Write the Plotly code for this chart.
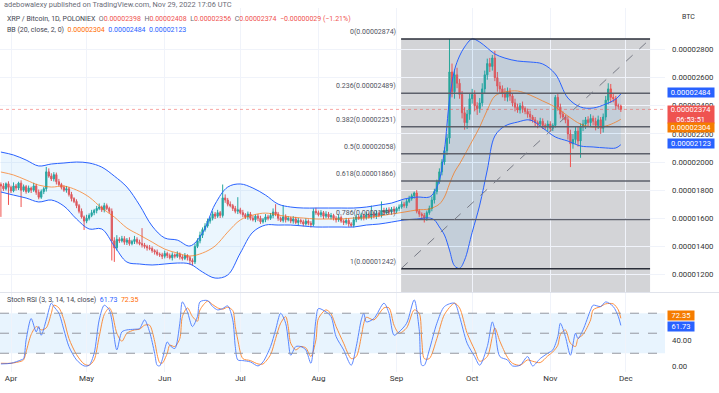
import numpy as np
import pandas as pd
import plotly.graph_objects as go

# ---------------- data (prices in units of 1e-8 BTC) ----------------
SCALE = 1e-8
START = "2022-03-28"
ORIGIN = pd.Timestamp("2022-04-01")
FIRST_OPEN = 1840

close = [
    1830, 1810, 1845, 1820, 1795, 1830, 1815, 1850, 1800, 1825, 1790, 1815, 1800, 1830, 1785,
    1750, 1790, 1810, 1930, 1900, 1880, 1910, 1860, 1840, 1820,
    1800, 1810, 1770, 1740, 1720, 1690, 1650, 1610, 1580, 1600,
    1620, 1640, 1655, 1670, 1680, 1660, 1690, 1670, 1650, 1440,
    1390, 1450, 1440, 1455, 1430, 1445, 1420, 1435, 1450, 1430,
    1420, 1410, 1400, 1390, 1385, 1370, 1360, 1345, 1340, 1330,
    1350, 1335, 1320, 1340, 1330, 1345, 1325, 1315, 1335, 1320,
    1300, 1290, 1400, 1440, 1480, 1520, 1545, 1580, 1600, 1630,
    1615, 1640, 1620, 1745, 1730, 1700, 1690, 1670, 1650, 1660,
    1640, 1625, 1610, 1630, 1600, 1590, 1615, 1600, 1575, 1590,
    1610, 1600, 1620, 1645, 1630, 1600, 1585, 1610, 1590, 1600,
    1580, 1595, 1570, 1585, 1575, 1560, 1580, 1565, 1555, 1650,
    1640, 1625, 1640, 1615, 1630, 1610, 1620, 1600, 1590, 1605,
    1580, 1570, 1585, 1560, 1550, 1590, 1610, 1600, 1620, 1605,
    1625, 1610, 1630, 1615, 1635, 1620, 1655, 1640, 1660, 1645,
    1665, 1650, 1670, 1680, 1700, 1690, 1720, 1740, 1760, 1780,
    1650, 1630, 1620, 1600, 1640, 1670, 1730, 1790, 1860, 1930,
    2000, 2080, 2170, 2640, 2500, 2620, 2560, 2480, 2350, 2280,
    2340, 2450, 2480, 2400, 2380, 2420, 2520, 2620, 2700, 2680,
    2740, 2600, 2540, 2520, 2490, 2460, 2500, 2470, 2420, 2390,
    2370, 2400, 2380, 2360, 2340, 2320, 2300, 2280, 2270, 2290,
    2260, 2250, 2270, 2240, 2260, 2460, 2390, 2340, 2320, 2300,
    2200, 2130, 2160, 2220, 2150, 2250, 2270, 2300, 2280, 2310,
    2290, 2260, 2300, 2240, 2320, 2440, 2520, 2460, 2450, 2400,
    2398, 2374,
]
wick_up = [
    15, 20, 10, 18, 12, 25, 14, 10, 20, 15, 12, 18, 10, 22, 15,
    20, 15, 12, 35, 25, 20, 18, 15, 20, 12,
    15, 20, 12, 18, 10, 15, 12, 20, 10, 25,
    15, 20, 12, 18, 25, 10, 20, 15, 12, 20,
    25, 30, 15, 20, 18, 15, 20, 12, 25, 15,
    18, 110, 15, 12, 20, 15, 10, 18, 12, 15,
    20, 12, 15, 18, 10, 20, 12, 15, 18, 10,
    12, 15, 20, 18, 25, 15, 20, 18, 12, 20,
    15, 20, 12, 95, 25, 15, 20, 12, 18, 90,
    15, 20, 12, 18, 15, 20, 12, 15, 18, 12,
    20, 15, 18, 25, 55, 15, 12, 84, 18, 15,
    12, 20, 15, 18, 12, 15, 20, 12, 15, 20,
    25, 15, 18, 12, 20, 15, 18, 12, 15, 20,
    15, 12, 18, 15, 12, 20, 18, 15, 20, 12,
    18, 15, 60, 15, 20, 12, 65, 20, 15, 18,
    15, 20, 12, 18, 20, 15, 18, 20, 15, 10,
    20, 15, 12, 18, 15, 20, 25, 20, 15, 25,
    20, 25, 30, 234, 60, 40, 50, 30, 25, 40,
    30, 35, 40, 30, 25, 35, 40, 30, 35, 40,
    21, 50, 40, 30, 25, 35, 30, 25, 20, 30,
    25, 20, 30, 15, 20, 25, 15, 20, 15, 25,
    20, 15, 25, 20, 15, 16, 30, 25, 20, 15,
    25, 30, 40, 35, 30, 25, 30, 20, 25, 30,
    20, 25, 30, 20, 25, 30, 40, 35, 25, 20,
    15, 10,
]
wick_dn = [
    220, 15, 12, 125, 15, 10, 18, 14, 120, 12, 15, 10, 20, 12, 18,
    15, 12, 18, 20, 12, 15, 18, 20, 12, 15,
    12, 18, 15, 20, 12, 18, 15, 12, 63, 15,
    15, 12, 18, 20, 12, 15, 18, 12, 15, 140,
    100, 20, 15, 12, 18, 20, 15, 12, 18, 15,
    12, 18, 15, 20, 12, 15, 18, 12, 15, 20,
    15, 18, 12, 20, 15, 12, 18, 15, 12, 20,
    30, 25, 15, 12, 18, 20, 15, 12, 18, 15,
    20, 12, 18, 15, 20, 15, 12, 18, 15, 20,
    12, 18, 15, 20, 15, 12, 18, 20, 15, 12,
    18, 15, 12, 20, 15, 18, 12, 15, 20, 12,
    15, 18, 12, 20, 15, 18, 12, 15, 20, 12,
    15, 12, 18, 20, 15, 12, 18, 15, 20, 15,
    12, 18, 15, 20, 12, 15, 18, 12, 15, 20,
    15, 12, 18, 15, 20, 12, 15, 18, 12, 15,
    12, 18, 15, 20, 12, 15, 18, 12, 15, 20,
    15, 20, 25, 30, 18, 15, 20, 25, 20, 15,
    25, 20, 30, 40, 40, 50, 35, 30, 40, 50,
    45, 40, 35, 40, 45, 30, 25, 30, 35, 40,
    30, 25, 40, 35, 30, 25, 30, 35, 25, 30,
    20, 25, 30, 20, 25, 30, 20, 25, 30, 20,
    25, 20, 30, 25, 20, 15, 25, 30, 20, 25,
    40, 166, 35, 30, 40, 120, 30, 35, 25, 30,
    30, 35, 25, 40, 30, 25, 30, 40, 25, 30,
    20, 18,
]

# Bollinger Bands (20, 2); day offsets from 2022-04-01
bb_day = [-4, 1, 6, 11, 16, 21, 26, 31, 36, 41,
          46, 51, 56, 61, 66, 71, 76, 81, 86, 91,
          96, 101, 106, 111, 116, 121, 126, 131, 136, 141,
          146, 151, 156, 161, 166, 168, 170, 172, 174, 176,
          178, 180, 183, 186, 189, 192, 196, 201, 206, 211,
          216, 221, 226, 231, 236, 240, 242]
bb_upper = [2071, 2050, 2014, 1972, 1986, 1993, 2000, 1993, 1964, 1900,
            1822, 1694, 1545, 1460, 1445, 1403, 1495, 1701, 1822, 1844,
            1815, 1765, 1701, 1680, 1673, 1673, 1673, 1673, 1673, 1680,
            1694, 1708, 1737, 1751, 1751, 1787, 1872, 2085, 2441, 2654,
            2754, 2818, 2875, 2853, 2811, 2768, 2739, 2718, 2711, 2697,
            2626, 2455, 2391, 2384, 2412, 2448, 2484]
bb_basis = [1929, 1908, 1872, 1836, 1822, 1829, 1801, 1751, 1673, 1609,
            1531, 1481, 1431, 1381, 1353, 1332, 1353, 1403, 1502, 1588,
            1623, 1637, 1623, 1609, 1602, 1595, 1595, 1595, 1602, 1602,
            1616, 1630, 1644, 1659, 1666, 1680, 1701, 1751, 1844, 1929,
            1986, 2050, 2149, 2249, 2370, 2469, 2498, 2505, 2476, 2434,
            2391, 2327, 2270, 2249, 2256, 2284, 2304]
bb_lower = [1787, 1765, 1744, 1716, 1730, 1687, 1595, 1524, 1524, 1403,
            1289, 1275, 1268, 1275, 1282, 1275, 1218, 1175, 1197, 1353,
            1502, 1552, 1552, 1552, 1545, 1538, 1538, 1538, 1538, 1552,
            1559, 1573, 1588, 1595, 1602, 1588, 1538, 1481, 1374, 1262,
            1244, 1303, 1500, 1694, 1943, 2185, 2256, 2284, 2299, 2242,
            2178, 2149, 2114, 2107, 2100, 2100, 2123]

# Stoch RSI (3, 3, 14, 14, close); day offsets from 2022-04-01
stoch_day = [-4, 0, 4, 5, 6, 8, 10, 11, 12, 14,
             16, 17, 19, 21, 23, 26, 29, 31, 33, 35,
             37, 39, 40, 42, 44, 46, 49, 51, 53, 55,
             57, 58, 59, 60, 62, 63, 65, 67, 68, 70,
             72, 74, 75, 78, 80, 82, 84, 86, 88, 89,
             90, 92, 95, 98, 100, 103, 105, 107, 109, 110,
             111, 113, 115, 117, 119, 121, 122, 125, 127, 129,
             132, 135, 137, 139, 140, 141, 144, 148, 150, 152,
             154, 157, 160, 162, 163, 164, 166, 169, 172, 176,
             178, 181, 184, 186, 189, 191, 192, 194, 197, 199,
             202, 205, 207, 210, 213, 215, 217, 218, 220, 222,
             224, 225, 227, 230, 231, 234, 236, 239, 241, 242]
stoch_k = [4, 5, 10, 12, 40, 72, 52, 60, 47, 70,
           95, 90, 80, 55, 30, 10, 1, 2, 20, 70,
           92, 85, 70, 25, 52, 55, 56, 57, 70, 52,
           20, 2, 1, 10, 37, 32, 27, 65, 97, 82,
           60, 75, 97, 99, 90, 85, 87, 91, 70, 30,
           10, 9, 7, 1, 7, 30, 55, 80, 65, 40,
           17, 30, 30, 25, 5, 70, 87, 82, 75, 45,
           25, 2, 30, 70, 80, 67, 72, 95, 80, 47,
           52, 65, 100, 55, 2, 2, 25, 65, 90, 95,
           75, 35, 15, 2, 30, 67, 55, 15, 10, 1,
           2, 15, 1, 12, 20, 25, 45, 65, 45, 17,
           50, 42, 55, 85, 92, 90, 97, 90, 75, 61.73]
stoch_d = [5, 5, 8, 10, 22, 48, 60, 58, 55, 58,
           80, 92, 88, 70, 42, 18, 4, 2, 10, 45,
           78, 88, 82, 50, 38, 50, 55, 56, 62, 62,
           38, 18, 6, 5, 20, 32, 30, 42, 75, 88,
           75, 68, 85, 98, 93, 88, 86, 89, 84, 60,
           40, 12, 9, 4, 4, 18, 42, 65, 75, 60,
           35, 25, 30, 28, 15, 40, 72, 85, 79, 60,
           35, 12, 15, 45, 65, 74, 70, 88, 88, 62,
           50, 58, 85, 80, 40, 12, 12, 42, 78, 95,
           88, 50, 25, 8, 15, 45, 58, 38, 14, 5,
           2, 10, 8, 6, 16, 22, 32, 48, 55, 35,
           30, 42, 48, 70, 85, 90, 94, 94, 85, 72.35]

fib_ratio = ["0", "0.236", "0.382", "0.5", "0.618", "0.786", "1"]
fib_price = [2874, 2489, 2251, 2058, 1866, 1591, 1242]

price_ticks = [1200, 1400, 1600, 1800, 2000, 2200, 2400, 2600, 2800]
stoch_ticks = [0, 40]

last_close = 2374
bb_last = {"basis": 2304, "upper": 2484, "lower": 2123}

# ---------------- styling ----------------
UP, DOWN = "#26a69a", "#ef5350"
BLUE, ORANGE = "#2962ff", "#ff6d00"
GRID = "#f0f3fa"
TXT = "#333333"
FONT = "Roboto"

W, H = 719, 393
ML, MR, MT, MB = 0, 54, 8, 21
PW, PH = W - ML - MR, H - MT - MB


def px(x):
    return x / PW


def py(y):
    return (H - MB - y) / PH


def day(d):
    return ORIGIN + pd.Timedelta(days=d)


dates = pd.date_range(START, periods=len(close), freq="D")
c_raw = np.array(close, float)
o_raw = np.concatenate([[FIRST_OPEN], c_raw[:-1]])
h_raw = np.maximum(o_raw, c_raw) + np.array(wick_up)
l_raw = np.minimum(o_raw, c_raw) - np.array(wick_dn)
assert len(wick_up) == len(close) == len(wick_dn)
assert len(bb_day) == len(bb_upper) == len(bb_basis) == len(bb_lower)
assert len(stoch_day) == len(stoch_k) == len(stoch_d)

bb_dates = [day(d) for d in bb_day]
st_dates = [day(d) for d in stoch_day]

fig = go.Figure()

# BB
fig.add_trace(go.Scatter(x=bb_dates, y=np.array(bb_upper) * SCALE, mode="lines",
                         line=dict(color=BLUE, width=1, shape="spline"), opacity=0.8,
                         hoverinfo="skip", xaxis="x", yaxis="y"))
fig.add_trace(go.Scatter(x=bb_dates, y=np.array(bb_lower) * SCALE, mode="lines",
                         line=dict(color=BLUE, width=1, shape="spline"), fill="tonexty",
                         fillcolor="rgba(33,150,243,0.09)", opacity=0.8, hoverinfo="skip",
                         xaxis="x", yaxis="y"))
fig.add_trace(go.Scatter(x=bb_dates, y=np.array(bb_basis) * SCALE, mode="lines",
                         line=dict(color=ORANGE, width=1, shape="spline"), opacity=0.65,
                         hoverinfo="skip", xaxis="x", yaxis="y"))

# candles
fig.add_trace(go.Candlestick(
    x=dates, open=o_raw * SCALE, high=h_raw * SCALE, low=l_raw * SCALE, close=c_raw * SCALE,
    increasing=dict(line=dict(color=UP, width=1), fillcolor=UP),
    decreasing=dict(line=dict(color=DOWN, width=1), fillcolor=DOWN),
    hoverinfo="skip", xaxis="x", yaxis="y"))

# Stoch RSI
fig.add_trace(go.Scatter(x=st_dates, y=stoch_d, mode="lines",
                         line=dict(color=ORANGE, width=1, shape="spline", smoothing=0.8),
                         opacity=0.75, hoverinfo="skip", xaxis="x2", yaxis="y2"))
fig.add_trace(go.Scatter(x=st_dates, y=stoch_k, mode="lines",
                         line=dict(color=BLUE, width=1, shape="spline", smoothing=0.8),
                         opacity=0.75, hoverinfo="skip", xaxis="x2", yaxis="y2"))

# ---------------- shapes ----------------
box_x0 = day(154.8)
box_x1 = day(253.6)
Y_LO, Y_HI = 1076, 3095
shapes = []
shapes.append(dict(type="rect", xref="x", yref="y", x0=box_x0, x1=box_x1,
                   y0=Y_LO * SCALE, y1=fib_price[0] * SCALE,
                   fillcolor="rgba(120,123,134,0.33)", line=dict(width=0), layer="below"))
for r, p in zip(fib_ratio, fib_price):
    col = "#2a2e39" if r in ("0", "1") else "#5d606b"
    shapes.append(dict(type="line", xref="x", yref="y", x0=box_x0, x1=box_x1,
                       y0=p * SCALE, y1=p * SCALE, line=dict(color=col, width=1.5)))
shapes.append(dict(type="line", xref="x", yref="y", x0=box_x0, x1=box_x1,
                   y0=fib_price[-1] * SCALE, y1=fib_price[0] * SCALE,
                   line=dict(color="#787b86", width=1, dash="dash")))
# last price dotted line
shapes.append(dict(type="line", xref="paper", yref="y", x0=0, x1=1,
                   y0=last_close * SCALE, y1=last_close * SCALE,
                   line=dict(color="rgba(239,83,80,0.5)", width=1, dash="dot")))
# stoch band
shapes.append(dict(type="rect", xref="paper", yref="y2", x0=0, x1=1, y0=20, y1=80,
                   fillcolor="rgba(33,150,243,0.10)", line=dict(width=0), layer="below"))
for lv in (80, 50, 20):
    shapes.append(dict(type="line", xref="paper", yref="y2", x0=0, x1=1, y0=lv, y1=lv,
                       line=dict(color="#9598a1", width=1, dash="dash")))
# pane separator
shapes.append(dict(type="line", xref="paper", yref="paper", x0=0, x1=W / PW,
                   y0=py(292.5), y1=py(292.5), line=dict(color="#e0e3eb", width=1)))

# ---------------- annotations ----------------
ann = []


def label(text, x, y, size=7, color=TXT, xanchor="left", yanchor="middle", **kw):
    ann.append(dict(text=text, x=x, y=y, xref="paper", yref="paper", xanchor=xanchor,
                    yanchor=yanchor, showarrow=False,
                    font=dict(family=FONT, size=size, color=color), **kw))


GR = "#6a6d78"
label("adebowalexy published on TradingView.com, Nov 29, 2022 17:06 UTC", px(2), py(4.5),
      size=7.4, color=GR)


def sp(t, c):
    return f'<span style="color:{c}">{t}</span>'


hdr = (sp("XRP / Bitcoin, 1D, POLONIEX", "#434651") + "  " +
       sp("O", GR) + sp("0.00002398", DOWN) + "  " +
       sp("H", GR) + sp("0.00002408", DOWN) + "  " +
       sp("L", GR) + sp("0.00002356", DOWN) + "  " +
       sp("C", GR) + sp("0.00002374", DOWN) + "  " +
       sp("\u22120.00000029 (\u22121.21%)", DOWN))
label(hdr, px(5), py(19), size=7)
bbt = (sp("BB (20, close, 2, 0)", "#434651") + "  " + sp("0.00002304", ORANGE) + "  " +
       sp("0.00002484", BLUE) + "  " + sp("0.00002123", BLUE))
label(bbt, px(5), py(30), size=7)
st = (sp("Stoch RSI (3, 3, 14, 14, close)", "#434651") + "  " + sp("61.73", BLUE) + "  " +
      sp("72.35", ORANGE))
label(st, px(5), py(300), size=7)
label("BTC", px(680), py(17), size=7, color=TXT)

# fib labels
for r, p in zip(fib_ratio, fib_price):
    ann.append(dict(text=f"{r}({p * SCALE:.8f})",
                    x=box_x0, y=p * SCALE, xref="x", yref="y", xanchor="right",
                    yanchor="middle", yshift=7, xshift=-3, showarrow=False,
                    font=dict(family=FONT, size=7, color="#50535e")))


def tag(text, yval, bg, yref="y", yshift=0, width=46, height=9):
    ann.append(dict(text=text, x=1, y=yval, xref="paper", yref=yref, xanchor="left",
                    yanchor="middle", xshift=2, yshift=yshift, showarrow=False,
                    bgcolor=bg, width=width, height=height, borderpad=0, align="center",
                    font=dict(family=FONT, size=7.5, color="white")))


tag("0.00002484", bb_last["upper"] * SCALE, BLUE, yshift=1)
tag("0.00002374<br>06:53:51", last_close * SCALE, DOWN, yshift=-5, height=17)
tag("0.00002304", bb_last["basis"] * SCALE, "#f57c00", yshift=-8)
tag("0.00002123", bb_last["lower"] * SCALE, BLUE, yshift=1)
tag("72.35", stoch_d[-1], "#f57c00", yref="y2", yshift=3, width=26)
tag("61.73", stoch_k[-1], BLUE, yref="y2", yshift=-1, width=26)

x_range = [day(-11 / 2.52), day((PW - 11) / 2.52)]

fig.update_layout(
    width=W, height=H, margin=dict(l=ML, r=MR, t=MT, b=MB, autoexpand=False),
    paper_bgcolor="white", plot_bgcolor="white", showlegend=False,
    font=dict(family=FONT, size=8, color=TXT),
    shapes=shapes, annotations=ann,
    xaxis=dict(type="date", range=x_range, anchor="y", showticklabels=False,
               showgrid=True, gridcolor=GRID, tick0="2022-04-01", dtick="M1",
               zeroline=False, showline=False, rangeslider=dict(visible=False),
               fixedrange=True),
    xaxis2=dict(type="date", range=x_range, anchor="y2", matches="x",
                showgrid=True, gridcolor=GRID, tick0="2022-04-01", dtick="M1",
                tickformat="%b", ticks="", tickfont=dict(size=8, color=TXT),
                zeroline=False, showline=False),
    yaxis=dict(domain=[py(292), 1], range=[Y_LO * SCALE, Y_HI * SCALE], side="right",
               tickvals=[t * SCALE for t in price_ticks], tickformat=".8f",
               showgrid=True, gridcolor=GRID, zeroline=False, ticks="",
               ticklabelstandoff=6, tickfont=dict(size=7.8, color=TXT)),
    yaxis2=dict(domain=[0, py(293)], range=[-8.1, 110.3], side="right",
                tickvals=stoch_ticks, tickformat=".2f", showgrid=False, zeroline=False,
                ticks="", ticklabelstandoff=6, tickfont=dict(size=7.8, color=TXT)),
)

fig.write_html(
    "out.html",
    config={"displayModeBar": False},
    post_script="document.body.style.margin='0px';document.body.style.overflow='hidden';",
)
